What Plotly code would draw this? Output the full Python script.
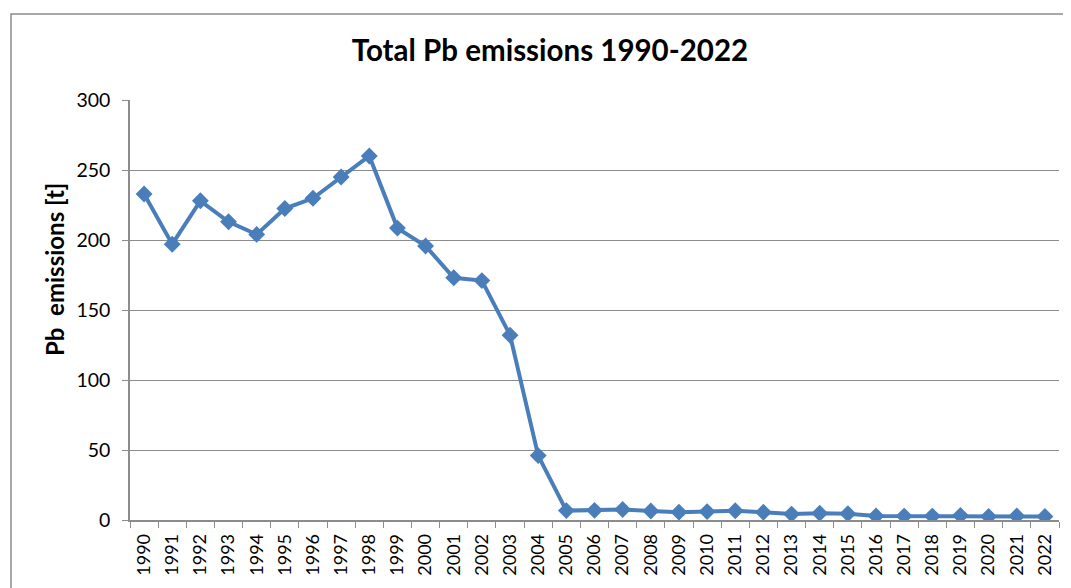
import plotly.graph_objects as go

years = [str(y) for y in range(1990, 2023)]
pb_emissions = [232.9, 197.0, 228.0, 213.0, 204.0, 222.5, 229.8, 245.0, 260.0, 208.5,
                195.7, 173.0, 171.0, 132.0, 46.0, 6.7, 6.9, 7.5, 6.4, 5.6,
                6.0, 6.6, 5.5, 4.2, 4.8, 4.5, 2.9, 2.8, 2.8, 3.2,
                2.5, 2.9, 2.5]
y_ticks = [0, 50, 100, 150, 200, 250, 300]

FONT = "Lato, 'Open Sans', sans-serif"
GRID = "#8c8c8c"
BLUE = "#4a7ebb"

# page body has an 8px margin; work in reference pixel coords shifted by OFF
OFF = 8
W, H = 1071 - OFF, 588 - OFF
L, T = 130 - OFF, 100 - OFF
R = W - (1059 - OFF)
B = H - (520 - OFF)
pw, ph = W - L - R, H - T - B


def px(x):
    return (x - OFF - L) / pw


def py(y):
    return (H - B - (y - OFF)) / ph


fig = go.Figure()
fig.add_trace(go.Scatter(
    x=years, y=pb_emissions, mode="lines+markers",
    line=dict(color=BLUE, width=4),
    marker=dict(symbol="diamond", size=13, color=BLUE),
    showlegend=False,
))

fig.update_layout(
    width=W, height=H, autosize=False,
    margin=dict(l=L, r=R, t=T, b=B, autoexpand=False),
    paper_bgcolor="white", plot_bgcolor="white",
    title=dict(text="<b>Total Pb emissions 1990-2022</b>", x=(550 - OFF) / W, xanchor="center",
               y=1 - (51 - OFF) / H, yanchor="middle", font=dict(family=FONT, size=29.5, color="black")),
    font=dict(family=FONT, color="black"),
    xaxis=dict(type="category", range=[-0.5, len(years) - 0.5], autorange=False,
               tickson="boundaries", ticks="outside", ticklen=6, automargin=False,
               tickcolor=GRID, showline=True, linecolor=GRID, linewidth=1.5,
               tickangle=-90, tickfont=dict(size=18, family=FONT), showgrid=False,
               zeroline=False, ticklabelstandoff=5),
    yaxis=dict(range=[0, 300], tickvals=y_ticks, ticks="outside", ticklen=6, automargin=False,
               tickcolor=GRID, showline=True, linecolor=GRID, linewidth=1.5,
               showgrid=True, gridcolor=GRID, gridwidth=1.2, zeroline=False,
               tickfont=dict(size=19.5, family=FONT), ticklabelstandoff=8),
    annotations=[dict(text="<b>Pb  emissions [t]</b>", xref="paper", yref="paper",
                      x=px(54), y=py(270), xanchor="center", yanchor="middle",
                      textangle=-90, showarrow=False, font=dict(size=24, family=FONT, color="black"))],
    shapes=[dict(type="rect", xref="paper", yref="paper",
                 x0=px(11), x1=px(1085), y0=py(610), y1=py(14),
                 line=dict(color="#8c8c8c", width=1.5), fillcolor="rgba(0,0,0,0)", layer="below")],
)

fig.write_html("out.html")
